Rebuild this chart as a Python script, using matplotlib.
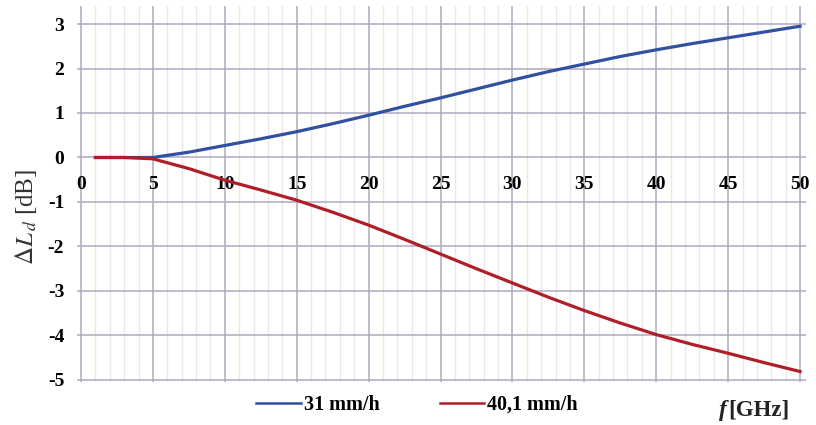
import numpy as np
import matplotlib.pyplot as plt
from matplotlib.ticker import MultipleLocator

# frequency [GHz] and attenuation difference [dB]
freq = [1, 3, 5, 7.5, 10, 12.5, 15, 17.5, 20, 22.5, 25, 27.5, 30, 32.5, 35, 37.5, 40, 42.5, 45, 47.5, 50]
dl_31 = [0, 0, 0, 0.12, 0.27, 0.42, 0.58, 0.76, 0.95, 1.15, 1.34, 1.54, 1.74, 1.93, 2.10, 2.27, 2.42, 2.56, 2.69, 2.82, 2.95]
dl_401 = [0, 0, -0.03, -0.25, -0.51, -0.73, -0.96, -1.23, -1.52, -1.84, -2.17, -2.50, -2.82, -3.14, -3.44, -3.72, -3.98, -4.20, -4.40, -4.61, -4.81]
labels = ['31 mm/h', '40,1 mm/h']
colors = ['#3050a0', '#b01e28']

plt.rcParams['font.family'] = ['Liberation Serif', 'DejaVu Serif']
plt.rcParams['mathtext.fontset'] = 'stix'
plt.rcParams['axes.unicode_minus'] = False

fig = plt.figure(figsize=(8.16, 4.25), dpi=100)
ax = fig.add_axes([0.094, 0.1007, 0.8935, 0.8847])

ax.plot(freq, dl_31, color=colors[0], lw=2.3, label=labels[0], zorder=3)
ax.plot(freq, dl_401, color=colors[1], lw=2.3, label=labels[1], zorder=3)

ax.set_xlim(-0.3, 50.4)
ax.set_ylim(-5.05, 3.4)
ax.xaxis.set_major_locator(MultipleLocator(5))
ax.xaxis.set_minor_locator(MultipleLocator(1))
ax.yaxis.set_major_locator(MultipleLocator(1))
ax.grid(which='major', color='#aeaac0', lw=1.1)
ax.grid(which='minor', axis='x', color='#e8e6ee', lw=0.9)
ax.set_axisbelow(True)

for s in ['top', 'right', 'left']:
    ax.spines[s].set_visible(False)
ax.spines['bottom'].set_position(('data', 0))
ax.spines['bottom'].set_visible(False)
ax.tick_params(axis='both', which='both', length=0)
ax.tick_params(axis='x', pad=13, labelsize=14)
ax.tick_params(axis='y', pad=9, labelsize=14)
for t in ax.get_xticklabels() + ax.get_yticklabels():
    t.set_fontweight('bold')

fig.text(0.032, 0.49, r'$\mathit{\Delta L_{\,d}}$ [dB]', rotation=90,
         ha='center', va='center', fontsize=18, color='#333333')

leg = fig.legend(loc='center', bbox_to_anchor=(0.511, 0.047), ncol=2, frameon=False,
                 handlelength=2.2, handletextpad=0.15, columnspacing=3.0,
                 prop={'weight': 'bold', 'size': 14.5})
for line in leg.get_lines():
    line.set_linewidth(1.8)

fig.text(0.968, 0.035, '[GHz]', ha='right', va='center', fontsize=16.5,
         fontweight='bold', color='#222222')
fig.text(0.891, 0.035, 'f', ha='right', va='center', fontsize=17,
         fontweight='bold', fontstyle='italic', color='#222222')

fig.savefig('out.png', dpi=100)
